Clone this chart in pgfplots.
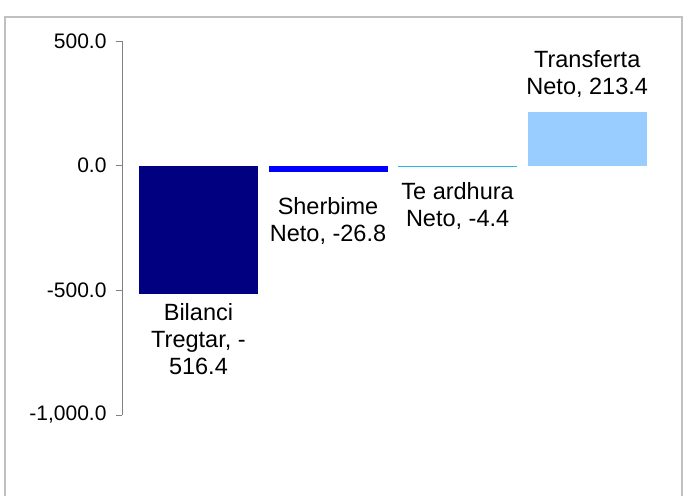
\documentclass[border=0pt]{standalone}
\usepackage{pgfplots}
\pgfplotsset{compat=1.18}
\usepackage{fontspec}
\setmainfont{Liberation Sans}
\definecolor{cNavy}{HTML}{000080}
\definecolor{cBlue}{HTML}{0000FF}
\definecolor{cSky}{RGB}{40,185,230}
\definecolor{cLight}{HTML}{99CCFF}
\definecolor{frameGray}{HTML}{C0C0C0}
\definecolor{axGray}{HTML}{808080}
\begin{document}
\begin{tikzpicture}[x=1pt,y=1pt]
\path[use as bounding box] (0,0) rectangle (684,-495);
\draw[frameGray, line width=2pt] (5,-17) rectangle (682,-530);
\begin{axis}[
    at={(122pt,-415pt)}, anchor=south west,
    scale only axis, width=530pt, height=374pt,
    xmin=-0.59, xmax=3.5, ymin=-1000, ymax=500,
    axis x line=none, axis y line*=left,
    y axis line style={axGray, line width=1pt, -},
    ytick={-1000,-500,0,500},
    ytick style={axGray, line width=1pt},
    tick align=outside, major tick length=6pt,
    yticklabel style={font=\fontsize{21}{22}\selectfont, text=black, xshift=-6pt,
      /pgf/number format/.cd, fixed, fixed zerofill, precision=1,
      1000 sep={,}, assume math mode=true},
    ybar, bar width=119pt, bar shift=0pt,
    clip=false,
    every node near coord/.append style={font=\fontsize{23.5}{27}\selectfont,
      align=center, text=black},
]
\addplot[fill=cNavy, draw=none,
  nodes near coords={Bilanci\\Tregtar, -\\516.4},
  every node near coord/.append style={yshift=-6pt}] coordinates {(0,-516.4)};
\addplot[fill=cBlue, draw=none,
  nodes near coords={Sherbime\\Neto, -26.8},
  every node near coord/.append style={yshift=-22pt}] coordinates {(1,-26.8)};
\addplot[fill=cSky, draw=none,
  nodes near coords={Te ardhura\\Neto, -4.4},
  every node near coord/.append style={yshift=-12pt}] coordinates {(2,-4.4)};
\addplot[fill=cLight, draw=none,
  nodes near coords={Transferta\\Neto, 213.4},
  every node near coord/.append style={yshift=11pt}] coordinates {(3,213.4)};
\end{axis}
\end{tikzpicture}
\end{document}
